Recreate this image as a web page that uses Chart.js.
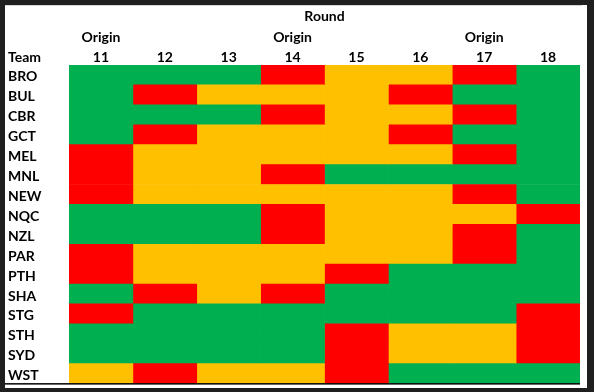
<!DOCTYPE html>
<html>
<head>
<meta charset="utf-8">
<script src="https://cdn.jsdelivr.net/npm/chart.js@4/dist/chart.umd.min.js"></script>
<style>
html,body{margin:0;padding:0;background:#1e1e1e;overflow:hidden}
canvas{display:block}
</style>
</head>
<body>
<canvas id="c" width="594" height="392"></canvas>
<script>
// ---- data ----
const teams = ['BRO','BUL','CBR','GCT','MEL','MNL','NEW','NQC','NZL','PAR','PTH','SHA','STG','STH','SYD','WST'];
const rounds = [11,12,13,14,15,16,17,18];
const originRounds = [11,14,17];
// status per team (same order as teams): G = green, O = amber, R = red
const round11 = ['G','G','G','G','R','R','R','G','G','R','R','G','R','G','G','O'];
const round12 = ['G','R','G','R','O','O','O','G','G','O','O','R','G','G','G','R'];
const round13 = ['G','O','G','O','O','O','O','G','G','O','O','O','G','G','G','O'];
const round14 = ['R','O','R','O','O','R','O','R','R','O','O','R','G','G','G','O'];
const round15 = ['O','O','O','O','O','G','O','O','O','O','R','G','G','R','R','R'];
const round16 = ['O','R','O','R','O','G','O','O','O','O','G','G','G','O','O','G'];
const round17 = ['R','G','R','G','R','G','R','O','R','R','G','G','G','O','O','G'];
const round18 = ['G','G','G','G','G','G','G','R','G','G','G','G','R','R','R','G'];
const statusByRound = [round11, round12, round13, round14, round15, round16, round17, round18];

// ---- style ----
const COLORS = { G: '#00B050', O: '#FFC000', R: '#FF0000' };
const FONT = { family: 'Lato', size: 14, weight: 'bold' };

const framePlugin = {
  id: 'frame',
  beforeDraw(chart) {
    const ctx = chart.ctx;
    ctx.save();
    ctx.fillStyle = '#1f1f1f';
    ctx.fillRect(0, 0, chart.width, chart.height);
    ctx.fillStyle = '#ffffff';
    ctx.fillRect(5, 5, 582, 383);
    ctx.fillStyle = '#d6d6d6';
    ctx.fillRect(5, 5, 577, 1);
    ctx.restore();
  },
  afterDraw(chart) {
    const ctx = chart.ctx;
    const a = chart.chartArea;
    ctx.save();
    ctx.fillStyle = '#000000';
    ctx.fillRect(5, a.bottom - 0.5, a.right - 5, 1.5);
    ctx.font = 'bold 14px Lato';
    ctx.textBaseline = 'middle';
    ctx.textAlign = 'left';
    ctx.fillText('Team', 8, a.top - 8);
    ctx.restore();
  }
};

new Chart(document.getElementById('c'), {
  type: 'bar',
  data: {
    labels: teams,
    datasets: rounds.map((r, i) => ({
      label: 'Round ' + r,
      data: teams.map(() => [r - 0.5, r + 0.5]),
      backgroundColor: statusByRound[i].map(s => COLORS[s]),
      borderWidth: 0,
      grouped: false,
      categoryPercentage: 1,
      barPercentage: 1
    }))
  },
  options: {
    indexAxis: 'y',
    responsive: false,
    animation: false,
    events: [],
    layout: { padding: { left: 8, top: 5, right: 14, bottom: 7 } },
    plugins: { legend: { display: false }, tooltip: { enabled: false }, title: { display: false } },
    scales: {
      x: {
        type: 'linear', position: 'top', min: 10.5, max: 18.5, weight: 0,
        grid: { display: false, drawTicks: false }, border: { display: false },
        ticks: { font: FONT, color: '#000', padding: -1, maxRotation: 0 },
        afterBuildTicks: s => { s.ticks = rounds.map(v => ({ value: v })); },
        afterFit: s => { s.height = 20; }
      },
      x2: {
        type: 'linear', position: 'top', min: 10.5, max: 18.5, weight: 1,
        grid: { display: false, drawTicks: false }, border: { display: false },
        ticks: { font: FONT, color: '#000', padding: -1, maxRotation: 0, callback: () => 'Origin' },
        title: { display: true, text: 'Round', font: FONT, color: '#000', padding: { top: 3, bottom: 0 } },
        afterBuildTicks: s => { s.ticks = originRounds.map(v => ({ value: v })); },
        afterFit: s => { s.height = 40; }
      },
      y: {
        type: 'category', position: 'left',
        grid: { display: false, drawTicks: false }, border: { display: false },
        ticks: { font: FONT, color: '#000', padding: 0, crossAlign: 'far', labelOffset: 2 },
        afterFit: s => { s.width = 61; }
      }
    }
  },
  plugins: [framePlugin]
});
</script>
</body>
</html>
